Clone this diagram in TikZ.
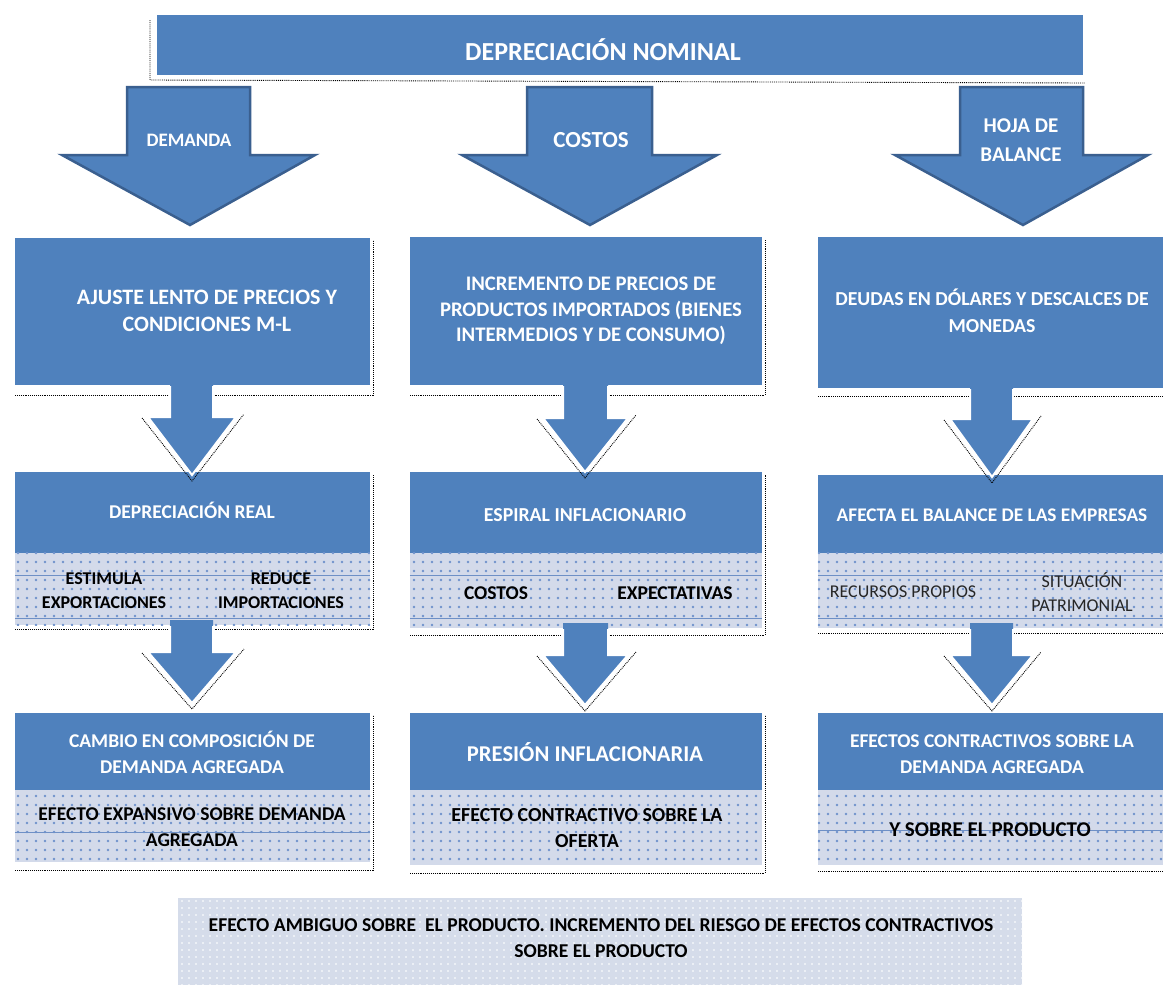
\documentclass[tikz,border=0pt]{standalone}
\usepackage{fontspec}
\setmainfont{Carlito}
\usetikzlibrary{patterns.meta}
\definecolor{boxblue}{HTML}{4F81BD}
\definecolor{edgeblue}{HTML}{3A5F8F}
\definecolor{panelfill}{HTML}{D3DAEA}
\definecolor{dotblue}{HTML}{6F92CC}
\definecolor{lineblue}{HTML}{6E90C6}
\definecolor{bottomfill}{HTML}{D5DCEA}
\begin{document}
\begin{tikzpicture}[x=1pt,y=-1pt,
  hdr/.style={fill=boxblue, draw=none, inner sep=0},
  panel/.style={fill=panelfill, draw=none, inner sep=0},
  dotfill/.style={pattern={Dots[distance=9pt,radius=1.3pt]}, pattern color=dotblue},
  wtxt/.style={text=white, font=\fontsize{19.5}{26}\selectfont\bfseries, align=center, inner sep=0},
  btxt/.style={text=black, font=\fontsize{19.5}{26}\selectfont\bfseries, align=center, inner sep=0},
  bigarrow/.style={fill=boxblue, draw=edgeblue, line width=2.5pt, line join=miter},
  smallarrow/.style={fill=boxblue, draw=none},
  arrowedge/.style={draw=white, line width=2pt, line join=miter},
  shadowdot/.style={black, densely dotted, line width=0.9pt},
  panelline/.style={lineblue, line width=0.8pt}
]
\useasboundingbox (0,0) rectangle (1165,985);
\fill[white] (0,0) rectangle (1165,985);

% ---------- top box ----------
\draw[shadowdot] (150,20) -- (150,80) -- (1085,83);
\node[hdr, minimum width=926pt, minimum height=60pt] (top) at (620,45) {};
\node[wtxt, font=\fontsize{26}{30}\selectfont\bfseries] (toptxt) at (603,50) {DEPRECIACIÓN NOMINAL};

% ---------- top arrows ----------
\draw[bigarrow] (127,87) -- (250,87) -- (250,155) -- (315,155) -- (190,225) -- (62,155) -- (127,155) -- cycle;
\draw[bigarrow] (527,87) -- (652,87) -- (652,155) -- (717,155) -- (590,225) -- (462,155) -- (527,155) -- cycle;
\draw[bigarrow] (960,87) -- (1083,87) -- (1083,155) -- (1148,155) -- (1023,225) -- (895,155) -- (960,155) -- cycle;
\node[wtxt, font=\fontsize{19}{25}\selectfont\bfseries] (dem) at (189,140) {DEMANDA};
\node[wtxt, font=\fontsize{23}{28}\selectfont\bfseries] (cos) at (591,140) {COSTOS};
\node[wtxt, font=\fontsize{21}{29}\selectfont\bfseries] (hoja) at (1021,140) {HOJA DE\\BALANCE};

% ---------- row 1 ----------
\draw[shadowdot] (15,395) -- (373,395) -- (373,240);
\draw[shadowdot] (410,395) -- (765,395) -- (765,240);
\draw[shadowdot] (818,396) -- (1163,396);
\node[hdr, minimum width=355pt, minimum height=147pt] (a1) at (192.5,311.5) {};
\node[hdr, minimum width=352pt, minimum height=148pt] (b1) at (586,311) {};
\node[hdr, minimum width=345pt, minimum height=151pt] (c1) at (990.5,312.5) {};
\node[wtxt, font=\fontsize{22}{27}\selectfont\bfseries] (a1t) at (207,311) {AJUSTE LENTO DE PRECIOS Y\\CONDICIONES M-L};
\node[wtxt, font=\fontsize{20.7}{25.5}\selectfont\bfseries] (b1t) at (591,311) {INCREMENTO DE PRECIOS DE\\PRODUCTOS IMPORTADOS (BIENES\\INTERMEDIOS Y DE CONSUMO)};
\node[wtxt, font=\fontsize{19.8}{27}\selectfont\bfseries] (c1t) at (992,311) {DEUDAS EN DÓLARES Y DESCALCES DE\\MONEDAS};

% ---------- row 2 ----------
\draw[shadowdot] (15,629) -- (373,629) -- (373,475);
\draw[shadowdot] (410,635) -- (765,635) -- (765,475);
\draw[shadowdot] (818,633) -- (1163,633);
\node[hdr, minimum width=355pt, minimum height=81pt] (a2) at (192.5,512.5) {};
\node[hdr, minimum width=352pt, minimum height=81pt] (b2) at (586,512.5) {};
\node[hdr, minimum width=345pt, minimum height=78pt] (c2) at (990.5,514) {};
\node[panel, minimum width=355pt, minimum height=72pt] (a2p) at (192.5,589) {};
\node[panel, minimum width=352pt, minimum height=75pt] (b2p) at (586,590.5) {};
\node[panel, minimum width=345pt, minimum height=75pt] (c2p) at (990.5,590.5) {};
\fill[dotfill] (a2p.north west) rectangle (a2p.south east);
\fill[dotfill] (b2p.north west) rectangle (b2p.south east);
\fill[dotfill] (c2p.north west) rectangle (c2p.south east);
\foreach \n in {a2p,b2p,c2p}{
  \draw[panelline] (\n.west |- 0,575) -- (\n.east |- 0,575);
  \draw[panelline] (\n.west |- 0,618) -- (\n.east |- 0,618);
}
\node[wtxt] (a2t) at (192,510) {DEPRECIACIÓN REAL};
\node[wtxt, font=\fontsize{19.8}{26}\selectfont\bfseries] (b2t) at (585,515) {ESPIRAL INFLACIONARIO};
\node[wtxt, font=\fontsize{19.3}{26}\selectfont\bfseries] (c2t) at (992,515) {AFECTA EL BALANCE DE LAS EMPRESAS};
\node[btxt, font=\fontsize{18}{24}\selectfont\bfseries] (a2l) at (104,591) {ESTIMULA\\EXPORTACIONES};
\node[btxt, font=\fontsize{18}{24}\selectfont\bfseries] (a2r) at (281,591) {REDUCE\\IMPORTACIONES};
\node[btxt] (b2l) at (496,593) {COSTOS};
\node[btxt] (b2r) at (675,593) {EXPECTATIVAS};
\node[btxt, font=\fontsize{18}{24}\selectfont, text=black!85] (c2l) at (903,592) {RECURSOS PROPIOS};
\node[btxt, font=\fontsize{18}{24}\selectfont, text=black!85] (c2r) at (1082,592) {SITUACIÓN\\PATRIMONIAL};

% ---------- row 3 ----------
\draw[shadowdot] (15,870) -- (373,870) -- (373,715);
\draw[shadowdot] (410,873) -- (765,873) -- (765,715);
\draw[shadowdot] (818,871) -- (1163,871);
\node[hdr, minimum width=355pt, minimum height=77pt] (a3) at (192.5,751.5) {};
\node[hdr, minimum width=352pt, minimum height=77pt] (b3) at (586,751.5) {};
\node[hdr, minimum width=345pt, minimum height=77pt] (c3) at (990.5,751.5) {};
\node[panel, minimum width=355pt, minimum height=72pt] (a3p) at (192.5,826) {};
\node[panel, minimum width=352pt, minimum height=75pt] (b3p) at (586,827.5) {};
\node[panel, minimum width=345pt, minimum height=75pt] (c3p) at (990.5,827.5) {};
\fill[dotfill] (a3p.north west) rectangle (a3p.south east);
\fill[dotfill] (b3p.north west) rectangle (b3p.south east);
\fill[dotfill] (c3p.north west) rectangle (c3p.south east);
\draw[panelline] (a3p.west |- 0,832) -- (a3p.east |- 0,832);
\draw[panelline] (c3p.west |- 0,830) -- (c3p.east |- 0,830);
\node[wtxt] (a3t) at (192,752) {CAMBIO EN COMPOSICIÓN DE\\DEMANDA AGREGADA};
\node[wtxt, font=\fontsize{22.6}{28}\selectfont\bfseries] (b3t) at (585,752) {PRESIÓN INFLACIONARIA};
\node[wtxt] (c3t) at (992,754) {EFECTOS CONTRACTIVOS SOBRE LA\\DEMANDA AGREGADA};
\node[btxt] (a3s) at (192,827) {EFECTO EXPANSIVO SOBRE DEMANDA\\AGREGADA};
\node[btxt, font=\fontsize{19.9}{26}\selectfont\bfseries] (b3s) at (587,828) {EFECTO CONTRACTIVO SOBRE LA\\OFERTA};
\node[btxt, font=\fontsize{21}{26}\selectfont\bfseries] (c3s) at (990,830) {Y SOBRE EL PRODUCTO};

% ---------- small arrows ----------
\foreach \l/\r/\hl/\hr/\tx/\ya/\yh/\yt in {
   170/213/148/236/192/386/417/475,
   563/608/543/628/585/386/418/472,
   970/1013/950/1033/992/389/419/477,
   170/213/148/236/192/626/652/703,
   563/608/543/628/585/629/655/705,
   970/1013/950/1033/992/629/655/705}{
  \fill[smallarrow] (\l,\ya-6) -- (\l,\yh) -- (\hl,\yh) -- (\tx,\yt) -- (\hr,\yh) -- (\r,\yh) -- (\r,\ya-6) -- cycle;
  \draw[arrowedge] (\l,\ya) -- (\l,\yh) -- (\hl,\yh) -- (\tx,\yt) -- (\hr,\yh) -- (\r,\yh) -- (\r,\ya);
  \draw[shadowdot] (\hl-6,\yh+1) -- (\tx,\yt+6) -- (\hr+8,\yh-3);
}

% ---------- bottom panel ----------
\node[fill=bottomfill, draw=none, inner sep=0, minimum width=844pt, minimum height=87pt] (bot) at (600,941.5) {};
\fill[pattern={Dots[distance=7pt,radius=1.1pt]}, pattern color=white!75!bottomfill] (bot.north west) rectangle (bot.south east);
\node[btxt, font=\fontsize{19.6}{26}\selectfont\bfseries] (bott) at (601,938) {EFECTO AMBIGUO SOBRE\ \ EL PRODUCTO. INCREMENTO DEL RIESGO DE EFECTOS CONTRACTIVOS\\SOBRE EL PRODUCTO};
\end{tikzpicture}
\end{document}
